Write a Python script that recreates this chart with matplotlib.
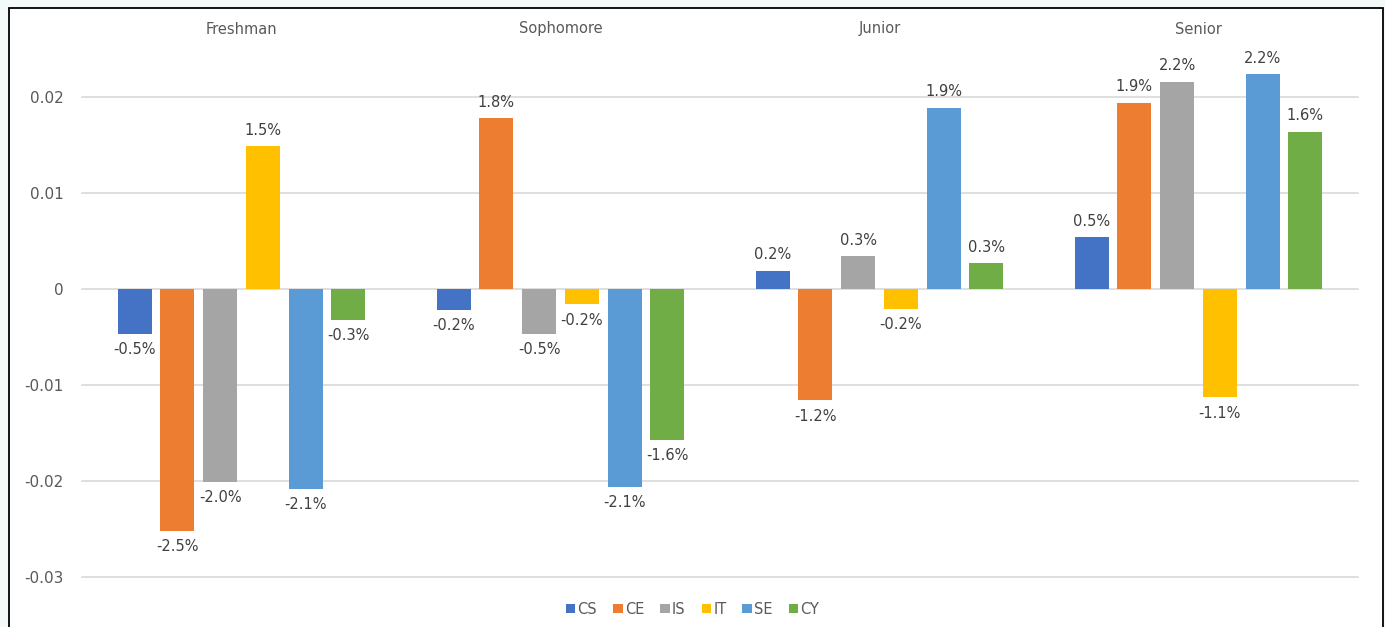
import matplotlib

matplotlib.use("Agg")
import matplotlib.pyplot as plt
from matplotlib.patches import Rectangle
import numpy as np

plt.rcParams["font.family"] = ["DejaVu Sans"]

YEARS = ["Freshman", "Sophomore", "Junior", "Senior"]
PROGRAMS = ["CS", "CE", "IS", "IT", "SE", "CY"]
COLORS = ["#4472C4", "#ED7D31", "#A5A5A5", "#FFC000", "#5B9BD5", "#70AD47"]

# one list per program, values for Freshman..Senior
CS = [-0.0047, -0.0022, 0.0019, 0.0054]
CE = [-0.0252, 0.0178, -0.0116, 0.0194]
IS = [-0.0201, -0.0047, 0.0034, 0.0216]
IT = [0.0149, -0.0016, -0.0021, -0.0113]
SE = [-0.0208, -0.0206, 0.0189, 0.0224]
CY = [-0.0032, -0.0157, 0.0027, 0.0164]
SERIES = [CS, CE, IS, IT, SE, CY]

YTICKS = [-0.03, -0.02, -0.01, 0, 0.01, 0.02]
YTICK_LABELS = ["-0.03", "-0.02", "-0.01", "0", "0.01", "0.02"]

W, H = 1385, 627
fig = plt.figure(figsize=(W / 100, H / 100), dpi=100, facecolor="#f3f9f9")
# white panel with black frame
fig.add_artist(
    Rectangle((9 / W, -0.05), (1383 - 9) / W, 1.05 - 8 / H,
              transform=fig.transFigure, facecolor="white",
              edgecolor="black", lw=1.3, zorder=-10)
)

ax = fig.add_axes([82 / W, 1 - 577 / H, 1276 / W, (577 - 49) / H])
ax.set_facecolor("none")

x = np.arange(len(YEARS))
pitch = 0.134
width = 0.107
for k, (name, vals, col) in enumerate(zip(PROGRAMS, SERIES, COLORS)):
    pos = x + (k - 2.5) * pitch
    bars = ax.bar(pos, vals, width=width, color=col, label=name, zorder=3)
    ax.bar_label(bars, labels=[f"{v * 100:.1f}%" for v in vals], padding=6,
                 fontsize=10.5, color="#404040")

ax.set_xlim(-0.5, 3.5)
ax.set_ylim(-0.03, 0.025)
ax.set_yticks(YTICKS)
ax.set_yticklabels(YTICK_LABELS)
ax.tick_params(axis="y", length=0, pad=13, labelsize=11, labelcolor="#595959")
ax.xaxis.tick_top()
ax.set_xticks(x)
ax.set_xticklabels(YEARS)
ax.tick_params(axis="x", length=0, pad=9, labelsize=10.5, labelcolor="#595959")
ax.grid(axis="y", color="#d9d9d9", lw=1.2, zorder=0)
for gl in ax.yaxis.get_gridlines():
    gl.set_clip_on(False)
for s in ax.spines.values():
    s.set_visible(False)

fig.legend(loc="center", bbox_to_anchor=(0.5, 1 - 609 / H), ncol=6,
           frameon=False, handlelength=0.65, handleheight=0.65,
           handletextpad=0.15, columnspacing=1.1, fontsize=10.5,
           labelcolor="#595959")

fig.savefig("out.png", dpi=100, facecolor=fig.get_facecolor())
